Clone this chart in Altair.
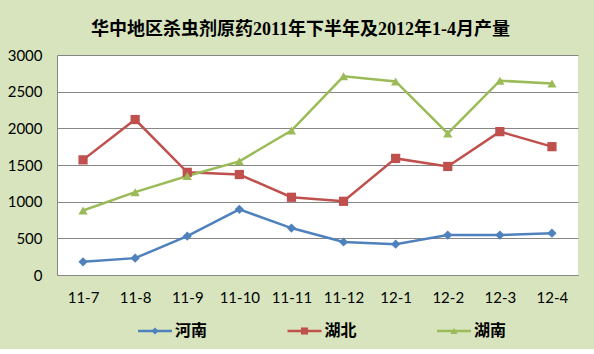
import altair as alt
import pandas as pd

months = ["11-7", "11-8", "11-9", "11-10", "11-11", "11-12", "12-1", "12-2", "12-3", "12-4"]
series = ["河南", "湖北", "湖南"]
henan = [180, 230, 530, 895, 640, 450, 420, 545, 545, 570]
hubei = [1570, 2120, 1400, 1370, 1060, 1005, 1590, 1480, 1955, 1750]
hunan = [880, 1130, 1350, 1550, 1970, 2710, 2640, 1930, 2650, 2610]
y_ticks = [0, 500, 1000, 1500, 2000, 2500, 3000]
colors = ["#4F81BD", "#C0504D", "#9BBB59"]
shapes = ["diamond", "square", "triangle-up"]
title_text = "华中地区杀虫剂原药2011年下半年及2012年1-4月产量"

rows = []
for s, vals in zip(series, [henan, hubei, hunan]):
    for m, v in zip(months, vals):
        rows.append({"month": m, "series": s, "value": v})
df = pd.DataFrame(rows)
leg = pd.DataFrame({"series": series, "row": ["a"] * len(series)})

color = alt.Color("series:N", scale=alt.Scale(domain=series, range=colors), legend=None)
shape = alt.Shape("series:N", scale=alt.Scale(domain=series, range=shapes), legend=None)

x = alt.X("month:N", sort=months, scale=alt.Scale(domain=months),
          axis=alt.Axis(title=None, labelAngle=0, ticks=False, domain=True,
                        domainColor="#868686", domainWidth=1, labelFont="Lato",
                        labelFontSize=15, labelColor="#000000", labelPadding=15,
                        grid=False))
y = alt.Y("value:Q", scale=alt.Scale(domain=[0, 3000], nice=False),
          axis=alt.Axis(title=None, values=y_ticks, format="d", ticks=False, domain=True,
                        domainColor="#868686", gridColor="#868686", gridWidth=1,
                        labelFont="Lato", labelFontSize=15, labelColor="#000000",
                        labelPadding=15))

lines = alt.Chart(df).mark_line(strokeWidth=2.5).encode(x=x, y=y, color=color)
points = alt.Chart(df).mark_point(filled=True, size=85, opacity=1).encode(
    x=x, y=y, color=color, shape=shape)
main = alt.layer(lines, points).properties(
    width=521, height=220, view=alt.ViewBackground(fill="white", stroke=None))

lx = alt.X("series:N", sort=series, scale=alt.Scale(domain=series, padding=0), axis=None)
ly = alt.Y("row:N", axis=None)
base = alt.Chart(leg).encode(x=lx, y=ly)
lline = base.mark_point(shape="stroke", size=1156, strokeWidth=2.5, filled=False,
                        opacity=1, xOffset=98).encode(color=color)
lpts = base.mark_point(filled=True, size=50, opacity=1, xOffset=98).encode(
    color=color, shape=shape)
ltxt = base.mark_text(align="left", baseline="middle", xOffset=118,
                      font="Noto Sans CJK SC", fontSize=16, fontWeight="bold",
                      color="#000000").encode(text="series:N")
legend = alt.layer(lline, lpts, ltxt).properties(
    width=299, height=20, view=alt.ViewBackground(fill=None, stroke=None))

chart = alt.vconcat(main, legend, spacing=16).resolve_scale(
    x="independent", y="independent"
).properties(
    title=alt.TitleParams(title_text, font="Liberation Serif, Noto Sans CJK SC",
                          fontSize=18, fontWeight="bold", anchor="middle",
                          color="#000000", offset=9, dx=8),
    padding={"left": 7, "top": 21, "right": 16, "bottom": 8},
).configure(background="#D7E4BD").configure_view(stroke=None)

chart.save("out.html", embed_options={"renderer": "svg", "actions": False})
